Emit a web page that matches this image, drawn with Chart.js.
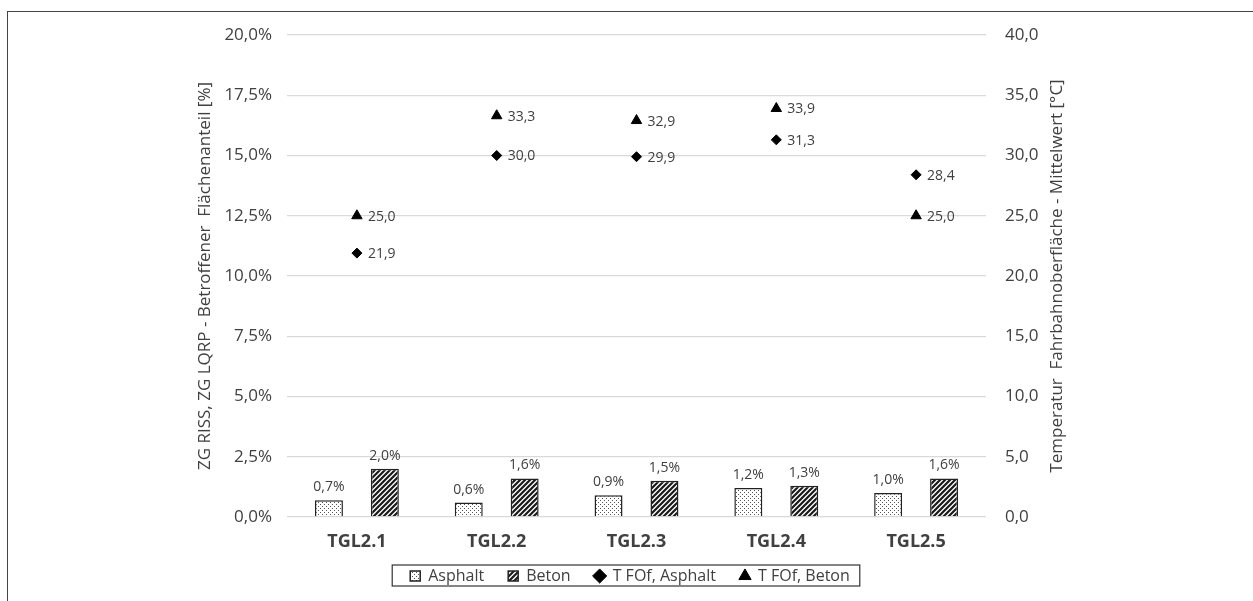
<!DOCTYPE html>
<html>
<head>
<meta charset="utf-8">
<script src="https://cdn.jsdelivr.net/npm/chart.js@4/dist/chart.umd.min.js"></script>
<style>
    html, body { margin: 0; padding: 0; background: #fff; overflow: hidden; }
    #frame { position: absolute; left: 7px; top: 11px; width: 1300px; height: 700px; border: 1.5px solid #444; }
    #chart { position: absolute; left: 0; top: 0; }
</style>
</head>
<body>
<div id="frame"></div>
<canvas id="chart" width="1253" height="601"></canvas>
<script>
const categories = ['TGL2.1', 'TGL2.2', 'TGL2.3', 'TGL2.4', 'TGL2.5'];
const asphaltShare = [0.7, 0.6, 0.9, 1.2, 1.0];
const betonShare = [2.0, 1.6, 1.5, 1.3, 1.6];
const tempAsphalt = [21.9, 30.0, 29.9, 31.3, 28.4];
const tempBeton = [25.0, 33.3, 32.9, 33.9, 25.0];

const leftTitle = 'ZG RISS, ZG LQRP - Betroffener  Flächenanteil [%]';
const rightTitle = 'Temperatur  Fahrbahnoberfläche - Mittelwert [°C]';

const FONT = "'Open Sans', 'Noto Sans', sans-serif";
const TEXT = '#404040';

function comma(v, d) {
    return v.toFixed(d).replace('.', ',');
}

// fill patterns for the bars
function dotPattern() {
    const c = document.createElement('canvas');
    c.width = 4; c.height = 4;
    const g = c.getContext('2d');
    g.fillStyle = '#fff';
    g.fillRect(0, 0, 4, 4);
    g.fillStyle = '#555';
    g.fillRect(0, 0, 1, 1);
    g.fillRect(2, 2, 1, 1);
    return g.createPattern(c, 'repeat');
}

function hatchPattern() {
    const s = 5;
    const c = document.createElement('canvas');
    c.width = s; c.height = s;
    const g = c.getContext('2d');
    g.fillStyle = '#fff';
    g.fillRect(0, 0, s, s);
    g.strokeStyle = '#1a1a1a';
    g.lineWidth = 2.2;
    g.beginPath();
    g.moveTo(0, s); g.lineTo(s, 0);
    g.moveTo(-1, 1); g.lineTo(1, -1);
    g.moveTo(s - 1, s + 1); g.lineTo(s + 1, s - 1);
    g.stroke();
    return g.createPattern(c, 'repeat');
}

const valueLabels = {
    id: 'valueLabels',
    afterDatasetsDraw(chart) {
        const ctx = chart.ctx;
        ctx.save();
        ctx.fillStyle = TEXT;
        chart.data.datasets.forEach((ds, i) => {
            const meta = chart.getDatasetMeta(i);
            meta.data.forEach((el, j) => {
                const v = ds.data[j];
                ctx.font = '14px ' + FONT;
                if (ds.type === 'bar') {
                    ctx.textAlign = 'center';
                    ctx.textBaseline = 'bottom';
                    ctx.fillText(comma(v, 1) + '%', el.x, el.y - 6);
                } else {
                    ctx.textAlign = 'left';
                    ctx.textBaseline = 'middle';
                    ctx.fillText(comma(v, 1), el.x + 11, el.y + 1);
                }
            });
        });
        ctx.restore();
    }
};

const axisTitles = {
    id: 'axisTitles',
    afterDraw(chart) {
        const ctx = chart.ctx;
        const a = chart.chartArea;
        const cy = (a.top + a.bottom) / 2;
        ctx.save();
        ctx.fillStyle = TEXT;
        ctx.font = '17px ' + FONT;
        ctx.textAlign = 'center';
        ctx.textBaseline = 'middle';
        [[205, leftTitle], [1057, rightTitle]].forEach(([x, t]) => {
            ctx.save();
            ctx.translate(x, cy);
            ctx.rotate(-Math.PI / 2);
            ctx.fillText(t, 0, 0);
            ctx.restore();
        });
        ctx.restore();
    }
};

const legendBox = {
    id: 'legendBox',
    afterDraw(chart) {
        const boxes = chart.legend.legendHitBoxes;
        if (!boxes || !boxes.length) return;
        const x0 = Math.min(...boxes.map(b => b.left)) - 18;
        const x1 = Math.max(...boxes.map(b => b.left + b.width)) + 10;
        const y0 = Math.min(...boxes.map(b => b.top)) - 3;
        const y1 = Math.max(...boxes.map(b => b.top + b.height)) + 2;
        const ctx = chart.ctx;
        ctx.save();
        ctx.strokeStyle = '#333';
        ctx.lineWidth = 1.2;
        ctx.strokeRect(x0, y0, x1 - x0, y1 - y0);
        ctx.restore();
    }
};

new Chart(document.getElementById('chart'), {
    data: {
        labels: categories,
        datasets: [
            {
                type: 'bar', label: 'Asphalt', data: asphaltShare, yAxisID: 'y',
                backgroundColor: dotPattern(), borderColor: '#222', borderWidth: 1.5,
                pointStyle: 'rect'
            },
            {
                type: 'bar', label: 'Beton', data: betonShare, yAxisID: 'y',
                backgroundColor: hatchPattern(), borderColor: '#222', borderWidth: 1.5,
                pointStyle: 'rect'
            },
            {
                type: 'line', label: 'T FOf, Asphalt', data: tempAsphalt, yAxisID: 'y1',
                showLine: false, pointStyle: 'rectRot', pointRadius: 5,
                backgroundColor: '#000', borderColor: '#000'
            },
            {
                type: 'line', label: 'T FOf, Beton', data: tempBeton, yAxisID: 'y1',
                showLine: false, pointStyle: 'triangle', pointRadius: 6,
                backgroundColor: '#000', borderColor: '#000'
            }
        ]
    },
    options: {
        responsive: false,
        animation: false,
        devicePixelRatio: 1,
        layout: { padding: { left: 195, right: 188, top: 35, bottom: 7 } },
        datasets: {
            bar: { categoryPercentage: 0.8, barPercentage: 0.5 }
        },
        scales: {
            x: {
                afterFit: s => { s.height = 43; },
                grid: { display: false, drawTicks: false },
                border: { display: false },
                ticks: { color: TEXT, font: { family: FONT, size: 18, weight: 'bold' }, padding: 14 }
            },
            y: {
                position: 'left',
                min: 0, max: 20,
                afterFit: s => { s.width = 92; },
                grid: { color: '#d9d9d9', lineWidth: 1.3, drawTicks: false },
                border: { display: false },
                ticks: {
                    stepSize: 2.5, padding: 15, color: TEXT,
                    font: { family: FONT, size: 17 },
                    callback: v => comma(v, 1) + '%'
                }
            },
            y1: {
                position: 'right',
                min: 0, max: 40,
                afterFit: s => { s.width = 79; },
                grid: { display: false, drawTicks: false },
                border: { display: false },
                ticks: {
                    stepSize: 5, padding: 19, color: TEXT,
                    font: { family: FONT, size: 17 },
                    callback: v => comma(v, 1)
                }
            }
        },
        plugins: {
            tooltip: { enabled: false },
            legend: {
                position: 'bottom',
                labels: {
                    usePointStyle: true, boxWidth: 10, boxHeight: 10, padding: 8,
                    color: TEXT, font: { family: FONT, size: 16 },
                    generateLabels(chart) {
                        const items = Chart.defaults.plugins.legend.labels.generateLabels(chart);
                        // wider gap between entries, like the original legend
                        items.forEach((it, i) => {
                            if (i < items.length - 1) it.text += '\u2002\u2002';
                        });
                        return items;
                    }
                }
            }
        }
    },
    plugins: [valueLabels, axisTitles, legendBox]
});
</script>
</body>
</html>
